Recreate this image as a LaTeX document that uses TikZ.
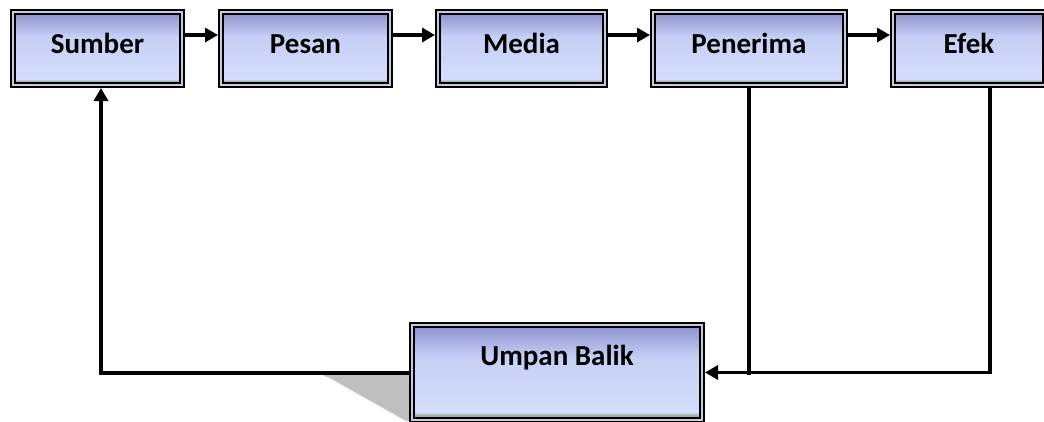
\documentclass[tikz,border=0pt]{standalone}
\usepackage{fontspec}
\setmainfont{Carlito}
\usetikzlibrary{arrows.meta}
\definecolor{topblue}{HTML}{8A8FCB}
\definecolor{midblue}{HTML}{C6D0F6}
\definecolor{lowblue}{HTML}{D3DDFC}
\definecolor{band}{HTML}{9DAEA0}
\definecolor{gapcol}{HTML}{C9C9DD}
\definecolor{shadowgray}{HTML}{BFBFBF}
\pgfdeclareverticalshading{boxshade}{100bp}{color(0bp)=(band); color(25bp)=(band); color(27.5bp)=(band); color(29bp)=(lowblue); color(58bp)=(midblue); color(75bp)=(topblue); color(100bp)=(topblue)}
\tikzset{
  flowbox/.style={draw=black, line width=2.2pt, double=gapcol, double distance=1.8pt,
    shading=boxshade, rectangle, inner sep=0pt, outer sep=3pt,
    font=\bfseries\fontsize{29}{34}\selectfont, text=black,
    text height=20pt, text depth=11pt},
  conn/.style={line width=3.6pt, draw=black, line join=miter,
    -{Triangle[length=13pt,width=14pt]}},
}
\begin{document}
\begin{tikzpicture}[x=1pt,y=-1pt]
\clip (0,0) rectangle (1044,421);
\fill[white] (0,0) rectangle (1044,421);
% shadow
\fill[shadowgray] (323,375) -- (409,375) -- (409,421) -- (405,421) -- cycle;
\draw[white!85!shadowgray, line width=1pt] (327,377) -- (405,421);
% top boxes
\node[flowbox, minimum width=169pt, minimum height=73pt] (sumber) at (97.5,48.5) {Sumber};
\node[flowbox, minimum width=169pt, minimum height=73pt] (pesan) at (305.5,48.5) {Pesan};
\node[flowbox, minimum width=167pt, minimum height=73pt] (media) at (521.5,48.5) {Media};
\node[flowbox, minimum width=192pt, minimum height=73pt] (penerima) at (749,48.5) {Penerima};
\node[flowbox, minimum width=152pt, minimum height=73pt] (efek) at (969,48.5) {Efek};
% feedback box
\node[flowbox, minimum width=290pt, minimum height=95pt, text height=20pt, text depth=35pt] (ub) at (557,372.5) {Umpan Balik};
% connectors along the top
\draw[conn] ([yshift=13.5pt]sumber.east) -- ([yshift=13.5pt]pesan.west);
\draw[conn] ([yshift=13.5pt]pesan.east) -- ([yshift=13.5pt]media.west);
\draw[conn] ([yshift=13.5pt]media.east) -- ([yshift=13.5pt]penerima.west);
\draw[conn] ([yshift=13.5pt]penerima.east) -- ([yshift=13.5pt]efek.west);
% feedback loop
\coordinate (c1) at (101,373);
\draw[conn] (c1 -| ub.west) -- (c1) -- (c1 |- sumber.south);
\draw[line width=4.5pt] (penerima.south) -- ([yshift=-2pt]penerima.south |- ub.east);
\draw[conn] ([xshift=21pt]efek.south) |- (ub.east);
\end{tikzpicture}
\end{document}
